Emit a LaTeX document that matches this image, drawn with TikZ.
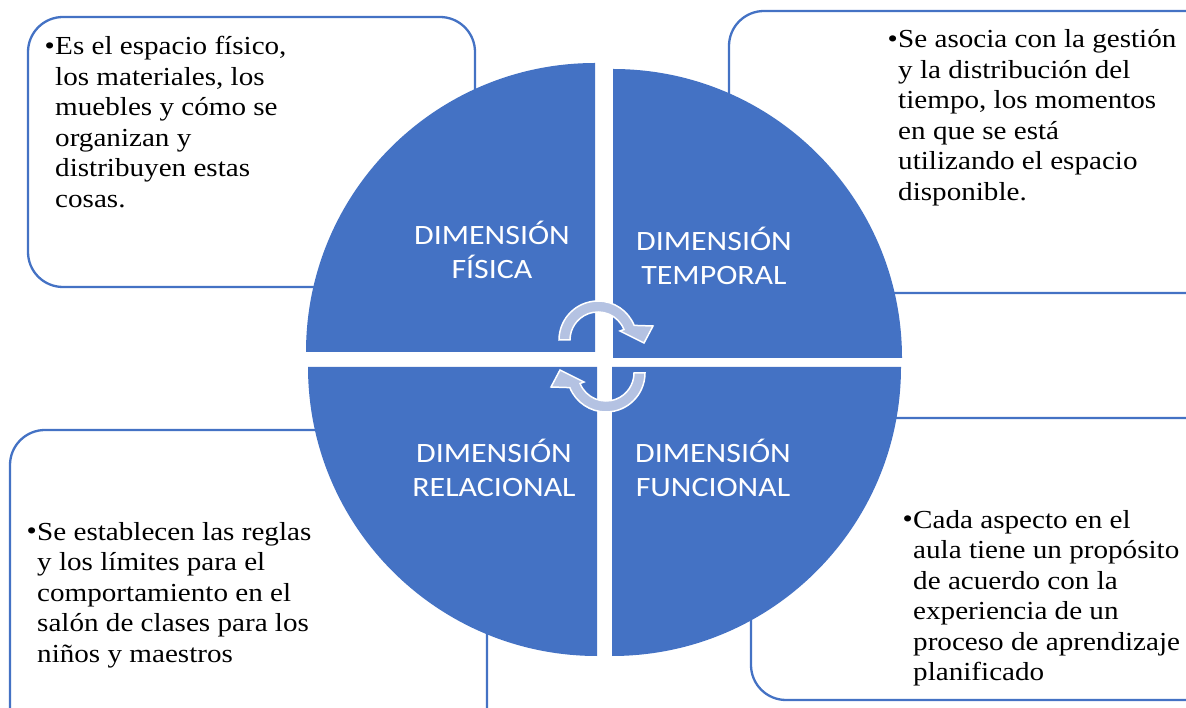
\documentclass[tikz,border=0pt]{standalone}
\usepackage{fontspec}
\setmainfont{Liberation Serif}
\newfontfamily\labelfont{Carlito}
\definecolor{qblue}{HTML}{4472C4}
\definecolor{arrowfill}{HTML}{B4C2E2}
\begin{document}
\begin{tikzpicture}[x=1pt,y=1pt,
  infobox/.style={draw=qblue, line width=2.3pt, fill=white, rounded corners=35pt},
  quad/.style={fill=qblue},
  cyc/.style={fill=arrowfill, draw=white, line width=1.5pt, line join=miter},
  dimlabel/.style={font=\labelfont\fontsize{28}{34}\selectfont, text=white, align=center, inner sep=0pt, xscale=1.14},
  desc/.style={font=\fontsize{26}{30.5}\selectfont, align=left, inner sep=0pt, anchor=base west, xscale=1.12},
  bul/.style={font=\fontsize{26}{30.5}\selectfont, inner sep=0pt, anchor=base east, xscale=1.12}]
\useasboundingbox (0,0) rectangle (1186,707);
\clip (0,0) rectangle (1186,707);
% info boxes
\path[infobox] (28,420) rectangle (475,690);
\path[infobox] (729,414) rectangle (1240,696);
\path[infobox] (10,-50) rectangle (487,277);
\path[infobox] (751,7) rectangle (1240,289);
% quadrants
\fill[quad] (595,355) -- (306,355) arc[start angle=180,end angle=90,radius=289] -- cycle;
\fill[quad] (613,349) -- (902,349) arc[start angle=0,end angle=90,radius=289] -- cycle;
\fill[quad] (597,340) -- (308,340) arc[start angle=180,end angle=270,radius=289] -- cycle;
\fill[quad] (612,340) -- (901,340) arc[start angle=0,end angle=-90,radius=289] -- cycle;
% cycle arrows
\path[cyc] (559,367) arc[start angle=180,end angle=22,radius=39] -- (653,381) -- (644,364) -- (620,376)
  -- ([shift={(598,367)}]22:28) arc[start angle=22,end angle=180,radius=28] -- cycle;
\path[cyc, rotate around={180:(602,350.5)}] (559,367) arc[start angle=180,end angle=22,radius=39] -- (653,381) -- (644,364) -- (620,376)
  -- ([shift={(598,367)}]22:28) arc[start angle=22,end angle=180,radius=28] -- cycle;
% labels
\node[dimlabel] (fis) at (492,457) {DIMENSIÓN\\FÍSICA};
\node[dimlabel] (tem) at (714,451.5) {DIMENSIÓN\\TEMPORAL};
\node[dimlabel] (rel) at (494,239.5) {DIMENSIÓN\\RELACIONAL};
\node[dimlabel] (fun) at (713,239.5) {DIMENSIÓN\\FUNCIONAL};
% descriptions
\node[bul] (b1) at (55,652) {•};
\node[desc] (t1) at (55,499.5) {Es el espacio físico,\\los materiales, los\\muebles y cómo se\\organizan y\\distribuyen estas\\cosas.};
\node[bul] (b2) at (898,659) {•};
\node[desc] (t2) at (898,506.5) {Se asocia con la gestión\\y la distribución del\\tiempo, los momentos\\en que se está\\utilizando el espacio\\disponible.};
\node[bul] (b3) at (37,167) {•};
\node[desc] (t3) at (37,45) {Se establecen las reglas\\y los límites para el\\comportamiento en el\\salón de clases para los\\niños y maestros};
\node[bul] (b4) at (913,179) {•};
\node[desc] (t4) at (913,26.5) {Cada aspecto en el\\aula tiene un propósito\\de acuerdo con la\\experiencia de un\\proceso de aprendizaje\\planificado};
\end{tikzpicture}
\end{document}
